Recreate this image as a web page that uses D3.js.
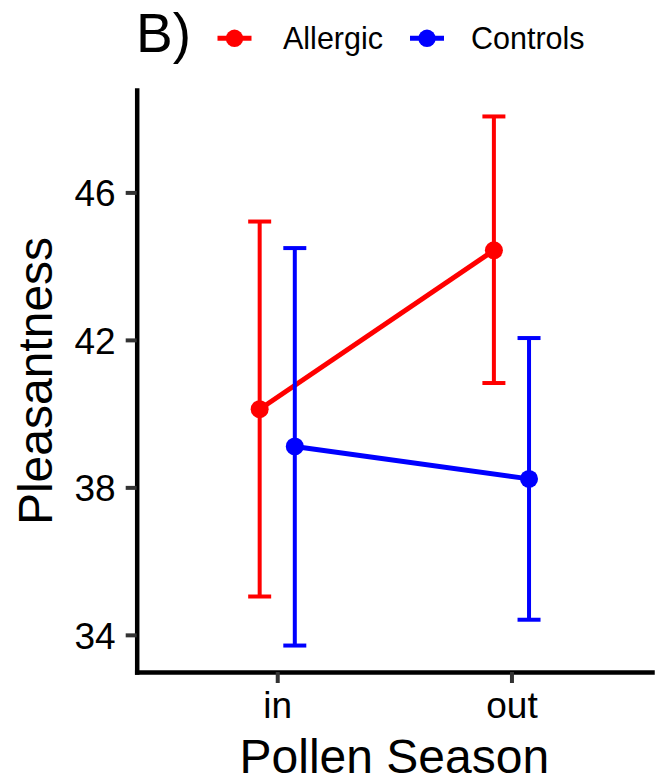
<!DOCTYPE html>
<html><head><meta charset="utf-8">
<script src="https://cdn.jsdelivr.net/npm/d3@7"></script>
<style>
body{margin:0;background:#fff}
text{font-family:"Liberation Sans",Arial,Helvetica,sans-serif}
</style>
</head><body>
<svg id="chart" width="662" height="783"></svg>
<script>
const seasons = ["in", "out"];
const groups = ["Allergic", "Controls"];
const groupColors = ["#FF0000", "#0000FF"];
const allergicMean  = [40.12, 44.43];
const allergicLower = [35.04, 40.83];
const allergicUpper = [45.21, 48.06];
const controlsMean  = [39.11, 38.23];
const controlsLower = [33.71, 34.41];
const controlsUpper = [44.49, 42.05];
const yTicks = [34, 38, 42, 46];
const titleText = "B)";
const xTitle = "Pollen Season";
const yTitle = "Pleasantness";

const series = [
  {name: groups[0], color: groupColors[0], mean: allergicMean, lo: allergicLower, hi: allergicUpper, off: -1},
  {name: groups[1], color: groupColors[1], mean: controlsMean, lo: controlsLower, hi: controlsUpper, off: 1}
];

const svg = d3.select("#chart");
const pLeft = 136.7, pRight = 652, pTop = 90, pBottom = 672;

const x = d3.scalePoint().domain(seasons).range([pLeft, pRight]).padding(0.6);
const yMin = d3.min([...allergicLower, ...controlsLower]);
const yMax = d3.max([...allergicUpper, ...controlsUpper]);
const pad = (yMax - yMin) * 0.05;
const y = d3.scaleLinear().domain([yMin - pad, yMax + pad]).range([pBottom, pTop]);
const dodge = x.step() * 0.075;
const px = (s, i) => x(seasons[i]) + s.off * dodge;

// axes
const yAxis = svg.append("g").attr("transform", `translate(${pLeft},0)`)
  .call(d3.axisLeft(y).tickValues(yTicks).tickFormat(d3.format("d")).tickSize(11).tickSizeOuter(0).tickPadding(10));
const xAxis = svg.append("g").attr("transform", `translate(0,${pBottom})`)
  .call(d3.axisBottom(x).tickSize(11).tickSizeOuter(0).tickPadding(10));
[yAxis, xAxis].forEach(g => {
  g.select(".domain").attr("stroke", "#000").attr("stroke-width", 4.5).attr("stroke-linecap", "square");
  g.selectAll(".tick line").attr("stroke", "#333").attr("stroke-width", 4);
  g.selectAll(".tick text").attr("fill", "#000").style("font-size", "37px");
});
yAxis.selectAll(".tick text").attr("dy", "0.36em");
xAxis.selectAll(".tick text").attr("dy", "0").attr("y", 46);

// error bars, lines, points
const capHalf = 11.5;
series.forEach(s => {
  const g = svg.append("g");
  seasons.forEach((d, i) => {
    const cx = px(s, i);
    g.append("line").attr("x1", cx).attr("x2", cx).attr("y1", y(s.lo[i])).attr("y2", y(s.hi[i]))
      .attr("stroke", s.color).attr("stroke-width", 4);
    [s.lo[i], s.hi[i]].forEach(v => {
      g.append("line").attr("x1", cx - capHalf).attr("x2", cx + capHalf).attr("y1", y(v)).attr("y2", y(v))
        .attr("stroke", s.color).attr("stroke-width", 4);
    });
  });
  const line = d3.line().x((d, i) => px(s, i)).y(d => y(d));
  g.append("path").datum(s.mean).attr("d", line).attr("fill", "none")
    .attr("stroke", s.color).attr("stroke-width", 5);
  g.selectAll("circle").data(s.mean).join("circle")
    .attr("cx", (d, i) => px(s, i)).attr("cy", d => y(d)).attr("r", 9).attr("fill", s.color);
});

// axis titles
svg.append("text").attr("x", (pLeft + pRight) / 2).attr("y", 773).attr("text-anchor", "middle")
  .style("font-size", "48px").attr("fill", "#000").text(xTitle);
svg.append("text").attr("transform", `translate(52,${(pTop + pBottom) / 2}) rotate(-90)`).attr("text-anchor", "middle")
  .style("font-size", "48px").attr("fill", "#000").text(yTitle);

// title
svg.append("text").attr("x", 136).attr("y", 52).style("font-size", "55px").attr("fill", "#000").text(titleText);

// legend
const legX = [234.5, 427];
const legTextX = [283, 471];
series.forEach((s, i) => {
  const lg = svg.append("g");
  lg.append("line").attr("x1", legX[i] - 17).attr("x2", legX[i] + 17).attr("y1", 38.3).attr("y2", 38.3)
    .attr("stroke", s.color).attr("stroke-width", 5);
  lg.append("circle").attr("cx", legX[i]).attr("cy", 38.3).attr("r", 8.7).attr("fill", s.color);
  lg.append("text").attr("x", legTextX[i]).attr("y", 48.5).style("font-size", "30.5px").attr("fill", "#000").text(s.name);
});
</script>
</body></html>
